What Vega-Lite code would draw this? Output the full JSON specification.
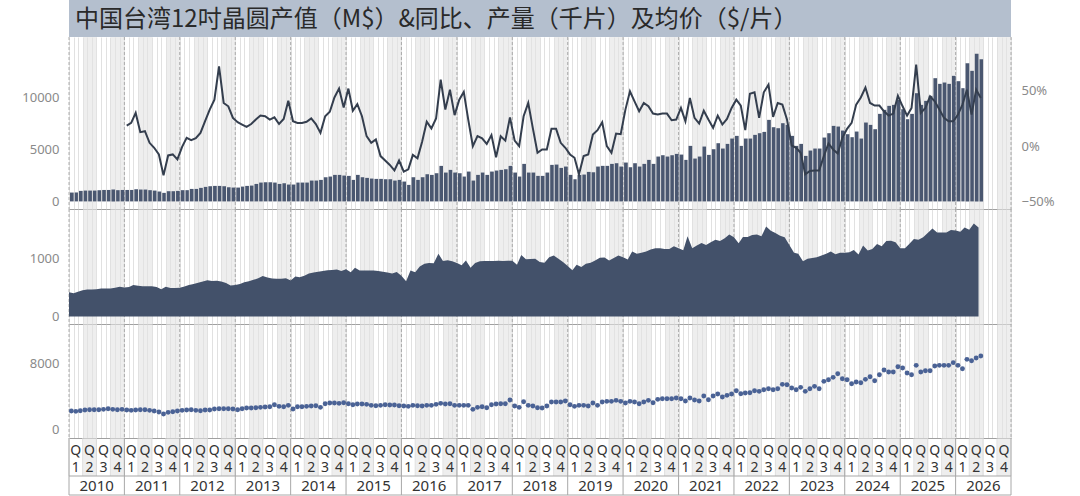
{
 "$schema": "https://vega.github.io/schema/vega-lite/v6.json",
 "padding": {"left": 5, "top": 0, "right": 0, "bottom": 0},
 "spacing": 0,
 "bounds": "flush",
 "background": "white",
 "config": {
  "view": {"stroke": null},
  "font": "Noto Sans",
  "axisX": {"grid": true, "gridColor": "#d4d4d4", "gridWidth": 0.7, "labels": false, "ticks": false, "domain": true, "domainColor": "#a0a0a0", "domainWidth": 1, "title": null, "tickCount": {"interval": "month", "step": 1}},
  "axisY": {"grid": false, "ticks": false, "domain": false, "title": null, "labelColor": "#8a8a8a", "labelFontSize": 13, "labelPadding": 10},
  "axisLeft": {"minExtent": 64, "maxExtent": 64, "format": "d"}
 },
 "datasets": {
  "m": [
   {"d":"2010-01","v":850,"p":415,"a":2274},{"d":"2010-02","v":860,"p":400,"a":2233},{"d":"2010-03","v":1010,"p":425,"a":2314},{"d":"2010-04","v":1040,"p":450,"a":2395},{"d":"2010-05","v":1040,"p":462,"a":2436},{"d":"2010-06","v":1040,"p":466,"a":2436},{"d":"2010-07","v":1075,"p":470,"a":2436},{"d":"2010-08","v":1100,"p":480,"a":2477},{"d":"2010-09","v":1100,"p":483,"a":2558},{"d":"2010-10","v":1140,"p":483,"a":2477},{"d":"2010-11","v":1080,"p":495,"a":2436},{"d":"2010-12","v":1100,"p":510,"a":2477},
   {"d":"2011-01","v":1100,"y":0.186,"p":500,"a":2395},{"d":"2011-02","v":1100,"y":0.21,"p":505,"a":2355},{"d":"2011-03","v":1170,"y":0.30,"p":540,"a":2395},{"d":"2011-04","v":1140,"y":0.126,"p":530,"a":2436},{"d":"2011-05","v":1140,"y":0.135,"p":520,"a":2436},{"d":"2011-06","v":1080,"y":0.03,"p":520,"a":2355},{"d":"2011-07","v":1040,"y":-0.015,"p":522,"a":2274},{"d":"2011-08","v":950,"y":-0.075,"p":505,"a":2152},{"d":"2011-09","v":820,"y":-0.264,"p":470,"a":1908},{"d":"2011-10","v":980,"y":-0.084,"p":510,"a":2111},{"d":"2011-11","v":980,"y":-0.075,"p":490,"a":2192},{"d":"2011-12","v":1010,"y":-0.12,"p":490,"a":2274},
   {"d":"2012-01","v":1080,"y":-0.006,"p":495,"a":2355},{"d":"2012-02","v":1080,"y":0.075,"p":515,"a":2395},{"d":"2012-03","v":1200,"y":0.054,"p":540,"a":2436},{"d":"2012-04","v":1200,"y":0.072,"p":560,"a":2355},{"d":"2012-05","v":1300,"y":0.12,"p":580,"a":2314},{"d":"2012-06","v":1395,"y":0.225,"p":600,"a":2395},{"d":"2012-07","v":1460,"y":0.33,"p":625,"a":2395},{"d":"2012-08","v":1490,"y":0.42,"p":610,"a":2517},{"d":"2012-09","v":1490,"y":0.72,"p":615,"a":2558},{"d":"2012-10","v":1460,"y":0.39,"p":600,"a":2558},{"d":"2012-11","v":1360,"y":0.36,"p":575,"a":2558},{"d":"2012-12","v":1330,"y":0.255,"p":535,"a":2517},
   {"d":"2013-01","v":1330,"y":0.216,"p":540,"a":2436},{"d":"2013-02","v":1425,"y":0.195,"p":560,"a":2558},{"d":"2013-03","v":1490,"y":0.174,"p":590,"a":2639},{"d":"2013-04","v":1520,"y":0.20,"p":605,"a":2639},{"d":"2013-05","v":1680,"y":0.24,"p":630,"a":2680},{"d":"2013-06","v":1810,"y":0.276,"p":660,"a":2720},{"d":"2013-07","v":1840,"y":0.27,"p":695,"a":2761},{"d":"2013-08","v":1840,"y":0.24,"p":670,"a":2801},{"d":"2013-09","v":1810,"y":0.26,"p":655,"a":3045},{"d":"2013-10","v":1680,"y":0.20,"p":650,"a":2842},{"d":"2013-11","v":1745,"y":0.246,"p":650,"a":2801},{"d":"2013-12","v":1620,"y":0.41,"p":660,"a":2964},
   {"d":"2014-01","v":1620,"y":0.225,"p":620,"a":2517},{"d":"2014-02","v":1810,"y":0.21,"p":690,"a":2801},{"d":"2014-03","v":1810,"y":0.21,"p":675,"a":2801},{"d":"2014-04","v":1810,"y":0.22,"p":700,"a":2842},{"d":"2014-05","v":2003,"y":0.25,"p":740,"a":2883},{"d":"2014-06","v":2003,"y":0.20,"p":755,"a":2923},{"d":"2014-07","v":2067,"y":0.12,"p":770,"a":2720},{"d":"2014-08","v":2324,"y":0.27,"p":785,"a":3167},{"d":"2014-09","v":2388,"y":0.31,"p":795,"a":3248},{"d":"2014-10","v":2548,"y":0.44,"p":800,"a":3248},{"d":"2014-11","v":2548,"y":0.52,"p":810,"a":3207},{"d":"2014-12","v":2484,"y":0.35,"p":785,"a":3289},
   {"d":"2015-01","v":2452,"y":0.52,"p":812,"a":3167},{"d":"2015-02","v":2067,"y":0.32,"p":760,"a":3045},{"d":"2015-03","v":2548,"y":0.38,"p":840,"a":3126},{"d":"2015-04","v":2324,"y":0.27,"p":790,"a":3126},{"d":"2015-05","v":2260,"y":0.09,"p":790,"a":3086},{"d":"2015-06","v":2195,"y":0.03,"p":790,"a":2964},{"d":"2015-07","v":2163,"y":0.06,"p":790,"a":2923},{"d":"2015-08","v":2163,"y":-0.09,"p":785,"a":2964},{"d":"2015-09","v":2131,"y":-0.13,"p":770,"a":3045},{"d":"2015-10","v":2131,"y":-0.17,"p":755,"a":3004},{"d":"2015-11","v":2003,"y":-0.22,"p":740,"a":3004},{"d":"2015-12","v":2067,"y":-0.13,"p":765,"a":2923},
   {"d":"2016-01","v":1907,"y":-0.23,"p":700,"a":2883},{"d":"2016-02","v":1586,"y":-0.21,"p":605,"a":2842},{"d":"2016-03","v":2324,"y":-0.08,"p":790,"a":2964},{"d":"2016-04","v":2067,"y":-0.11,"p":760,"a":2923},{"d":"2016-05","v":2324,"y":0.04,"p":860,"a":2883},{"d":"2016-06","v":2612,"y":0.22,"p":910,"a":2964},{"d":"2016-07","v":2548,"y":0.16,"p":920,"a":2964},{"d":"2016-08","v":2708,"y":0.25,"p":915,"a":3086},{"d":"2016-09","v":3413,"y":0.60,"p":1080,"a":3207},{"d":"2016-10","v":2772,"y":0.33,"p":955,"a":3126},{"d":"2016-11","v":3029,"y":0.51,"p":970,"a":3167},{"d":"2016-12","v":2772,"y":0.28,"p":950,"a":2964},
   {"d":"2017-01","v":2708,"y":0.42,"p":920,"a":2964},{"d":"2017-02","v":2388,"y":0.49,"p":880,"a":2964},{"d":"2017-03","v":2868,"y":0.24,"p":965,"a":2964},{"d":"2017-04","v":2003,"y":0.0,"p":840,"a":2477},{"d":"2017-05","v":2548,"y":0.09,"p":920,"a":2720},{"d":"2017-06","v":2772,"y":0.07,"p":950,"a":2801},{"d":"2017-07","v":2548,"y":0.02,"p":955,"a":2680},{"d":"2017-08","v":2868,"y":0.10,"p":955,"a":3045},{"d":"2017-09","v":2965,"y":-0.10,"p":955,"a":3126},{"d":"2017-10","v":3029,"y":0.09,"p":960,"a":3167},{"d":"2017-11","v":3093,"y":0.05,"p":955,"a":3167},{"d":"2017-12","v":3413,"y":0.26,"p":960,"a":3613},
   {"d":"2018-01","v":2772,"y":0.05,"p":960,"a":2883},{"d":"2018-02","v":2388,"y":0.0,"p":890,"a":2720},{"d":"2018-03","v":3606,"y":0.27,"p":1060,"a":3410},{"d":"2018-04","v":2772,"y":0.39,"p":985,"a":2964},{"d":"2018-05","v":2772,"y":0.16,"p":990,"a":2883},{"d":"2018-06","v":2452,"y":-0.06,"p":994,"a":2680},{"d":"2018-07","v":2452,"y":-0.03,"p":937,"a":2639},{"d":"2018-08","v":2772,"y":-0.03,"p":926,"a":2883},{"d":"2018-09","v":3510,"y":0.156,"p":1022,"a":3370},{"d":"2018-10","v":3540,"y":0.156,"p":1051,"a":3370},{"d":"2018-11","v":3220,"y":0.03,"p":994,"a":3370},{"d":"2018-12","v":3350,"y":-0.015,"p":937,"a":3492},
   {"d":"2019-01","v":2550,"y":-0.075,"p":869,"a":3045},{"d":"2019-02","v":2130,"y":-0.105,"p":795,"a":2842},{"d":"2019-03","v":2550,"y":-0.255,"p":892,"a":2964},{"d":"2019-04","v":2580,"y":-0.09,"p":852,"a":2964},{"d":"2019-05","v":2836,"y":-0.075,"p":909,"a":2883},{"d":"2019-06","v":2800,"y":0.105,"p":926,"a":3248},{"d":"2019-07","v":3350,"y":0.144,"p":966,"a":2964},{"d":"2019-08","v":3415,"y":0.216,"p":1011,"a":3370},{"d":"2019-09","v":3415,"y":0.0,"p":1017,"a":3451},{"d":"2019-10","v":3606,"y":-0.06,"p":966,"a":3451},{"d":"2019-11","v":3670,"y":0.114,"p":1005,"a":3573},{"d":"2019-12","v":3350,"y":0.108,"p":1051,"a":3451},
   {"d":"2020-01","v":3734,"y":0.33,"p":1022,"a":3248},{"d":"2020-02","v":3285,"y":0.495,"p":983,"a":3451},{"d":"2020-03","v":3670,"y":0.405,"p":1119,"a":3370},{"d":"2020-04","v":3350,"y":0.315,"p":1079,"a":3167},{"d":"2020-05","v":3606,"y":0.39,"p":1096,"a":3370},{"d":"2020-06","v":3990,"y":0.36,"p":1119,"a":3573},{"d":"2020-07","v":3606,"y":0.294,"p":1153,"a":3289},{"d":"2020-08","v":4311,"y":0.285,"p":1176,"a":3695},{"d":"2020-09","v":4439,"y":0.294,"p":1176,"a":3776},{"d":"2020-10","v":4311,"y":0.294,"p":1164,"a":3776},{"d":"2020-11","v":4439,"y":0.234,"p":1164,"a":3776},{"d":"2020-12","v":4567,"y":0.24,"p":1210,"a":3857},
   {"d":"2021-01","v":4500,"y":0.345,"p":1176,"a":3776},{"d":"2021-02","v":3990,"y":0.225,"p":1142,"a":3492},{"d":"2021-03","v":5336,"y":0.435,"p":1380,"a":3857},{"d":"2021-04","v":4118,"y":0.255,"p":1176,"a":3613},{"d":"2021-05","v":4311,"y":0.204,"p":1221,"a":3492},{"d":"2021-06","v":5272,"y":0.32,"p":1267,"a":4101},{"d":"2021-07","v":4470,"y":0.24,"p":1233,"a":3654},{"d":"2021-08","v":5016,"y":0.165,"p":1278,"a":4101},{"d":"2021-09","v":5593,"y":0.276,"p":1323,"a":4344},{"d":"2021-10","v":5080,"y":0.195,"p":1300,"a":3979},{"d":"2021-11","v":5528,"y":0.246,"p":1346,"a":4182},{"d":"2021-12","v":6041,"y":0.345,"p":1414,"a":4344},
   {"d":"2022-01","v":6298,"y":0.42,"p":1363,"a":4750},{"d":"2022-02","v":5336,"y":0.366,"p":1261,"a":4385},{"d":"2022-03","v":6041,"y":0.144,"p":1369,"a":4466},{"d":"2022-04","v":6041,"y":0.474,"p":1369,"a":4507},{"d":"2022-05","v":6394,"y":0.486,"p":1403,"a":4750},{"d":"2022-06","v":6554,"y":0.255,"p":1414,"a":4669},{"d":"2022-07","v":6682,"y":0.486,"p":1380,"a":4872},{"d":"2022-08","v":7836,"y":0.555,"p":1550,"a":4994},{"d":"2022-09","v":7131,"y":0.264,"p":1477,"a":4872},{"d":"2022-10","v":7035,"y":0.39,"p":1437,"a":4994},{"d":"2022-11","v":7516,"y":0.375,"p":1391,"a":5522},{"d":"2022-12","v":7355,"y":0.24,"p":1363,"a":5481},
   {"d":"2023-01","v":6298,"y":0.006,"p":1233,"a":5075},{"d":"2023-02","v":5336,"y":-0.015,"p":1096,"a":4872},{"d":"2023-03","v":5528,"y":-0.06,"p":1079,"a":5156},{"d":"2023-04","v":4375,"y":-0.255,"p":949,"a":4669},{"d":"2023-05","v":4888,"y":-0.225,"p":994,"a":4994},{"d":"2023-06","v":5080,"y":-0.22,"p":1005,"a":5278},{"d":"2023-07","v":5080,"y":-0.22,"p":1022,"a":4994},{"d":"2023-08","v":6137,"y":-0.09,"p":1051,"a":5887},{"d":"2023-09","v":6554,"y":0.024,"p":1079,"a":6090},{"d":"2023-10","v":7259,"y":-0.03,"p":1119,"a":6374},{"d":"2023-11","v":7195,"y":-0.066,"p":1073,"a":6821},{"d":"2023-12","v":6810,"y":0.075,"p":1096,"a":6212},
   {"d":"2024-01","v":6458,"y":0.156,"p":1096,"a":6090},{"d":"2024-02","v":6170,"y":0.21,"p":1107,"a":5603},{"d":"2024-03","v":6714,"y":0.375,"p":1147,"a":5806},{"d":"2024-04","v":6041,"y":0.44,"p":1068,"a":5725},{"d":"2024-05","v":7580,"y":0.53,"p":1221,"a":6131},{"d":"2024-06","v":7355,"y":0.39,"p":1136,"a":6455},{"d":"2024-07","v":6939,"y":0.366,"p":1164,"a":5968},{"d":"2024-08","v":8413,"y":0.366,"p":1250,"a":6699},{"d":"2024-09","v":8798,"y":0.315,"p":1210,"a":7267},{"d":"2024-10","v":9182,"y":0.276,"p":1300,"a":7024},{"d":"2024-11","v":9278,"y":0.294,"p":1306,"a":7024},{"d":"2024-12","v":9759,"y":0.456,"p":1278,"a":7673},
   {"d":"2025-01","v":8862,"y":0.36,"p":1176,"a":7511},{"d":"2025-02","v":7900,"y":0.276,"p":1176,"a":6902},{"d":"2025-03","v":8413,"y":0.345,"p":1250,"a":6699},{"d":"2025-04","v":10400,"y":0.736,"p":1335,"a":7836},{"d":"2025-05","v":9278,"y":0.30,"p":1323,"a":7024},{"d":"2025-06","v":9663,"y":0.345,"p":1363,"a":7186},{"d":"2025-07","v":10144,"y":0.45,"p":1437,"a":7186},{"d":"2025-08","v":11842,"y":0.405,"p":1516,"a":7755},{"d":"2025-09","v":11297,"y":0.33,"p":1448,"a":7836},{"d":"2025-10","v":11425,"y":0.255,"p":1448,"a":7836},{"d":"2025-11","v":11297,"y":0.225,"p":1448,"a":7836},{"d":"2025-12","v":12067,"y":0.225,"p":1488,"a":8161},
   {"d":"2026-01","v":11554,"y":0.285,"p":1482,"a":7836},{"d":"2026-02","v":10881,"y":0.375,"p":1460,"a":7430},{"d":"2026-03","v":13285,"y":0.51,"p":1534,"a":8567},{"d":"2026-04","v":12548,"y":0.285,"p":1494,"a":8404},{"d":"2026-05","v":14182,"y":0.51,"p":1602,"a":8729},{"d":"2026-06","v":13670,"y":0.435,"p":1534,"a":8973}
  ],
  "q": [
   {"d":"2010-01-01","q":1},{"d":"2010-04-01","q":2},{"d":"2010-07-01","q":3},{"d":"2010-10-01","q":4},
   {"d":"2011-01-01","q":1},{"d":"2011-04-01","q":2},{"d":"2011-07-01","q":3},{"d":"2011-10-01","q":4},
   {"d":"2012-01-01","q":1},{"d":"2012-04-01","q":2},{"d":"2012-07-01","q":3},{"d":"2012-10-01","q":4},
   {"d":"2013-01-01","q":1},{"d":"2013-04-01","q":2},{"d":"2013-07-01","q":3},{"d":"2013-10-01","q":4},
   {"d":"2014-01-01","q":1},{"d":"2014-04-01","q":2},{"d":"2014-07-01","q":3},{"d":"2014-10-01","q":4},
   {"d":"2015-01-01","q":1},{"d":"2015-04-01","q":2},{"d":"2015-07-01","q":3},{"d":"2015-10-01","q":4},
   {"d":"2016-01-01","q":1},{"d":"2016-04-01","q":2},{"d":"2016-07-01","q":3},{"d":"2016-10-01","q":4},
   {"d":"2017-01-01","q":1},{"d":"2017-04-01","q":2},{"d":"2017-07-01","q":3},{"d":"2017-10-01","q":4},
   {"d":"2018-01-01","q":1},{"d":"2018-04-01","q":2},{"d":"2018-07-01","q":3},{"d":"2018-10-01","q":4},
   {"d":"2019-01-01","q":1},{"d":"2019-04-01","q":2},{"d":"2019-07-01","q":3},{"d":"2019-10-01","q":4},
   {"d":"2020-01-01","q":1},{"d":"2020-04-01","q":2},{"d":"2020-07-01","q":3},{"d":"2020-10-01","q":4},
   {"d":"2021-01-01","q":1},{"d":"2021-04-01","q":2},{"d":"2021-07-01","q":3},{"d":"2021-10-01","q":4},
   {"d":"2022-01-01","q":1},{"d":"2022-04-01","q":2},{"d":"2022-07-01","q":3},{"d":"2022-10-01","q":4},
   {"d":"2023-01-01","q":1},{"d":"2023-04-01","q":2},{"d":"2023-07-01","q":3},{"d":"2023-10-01","q":4},
   {"d":"2024-01-01","q":1},{"d":"2024-04-01","q":2},{"d":"2024-07-01","q":3},{"d":"2024-10-01","q":4},
   {"d":"2025-01-01","q":1},{"d":"2025-04-01","q":2},{"d":"2025-07-01","q":3},{"d":"2025-10-01","q":4},
   {"d":"2026-01-01","q":1},{"d":"2026-04-01","q":2},{"d":"2026-07-01","q":3},{"d":"2026-10-01","q":4}
  ],
  "yr": [
   {"d":"2010-01-01","yl":"2010"},{"d":"2011-01-01","yl":"2011"},{"d":"2012-01-01","yl":"2012"},{"d":"2013-01-01","yl":"2013"},{"d":"2014-01-01","yl":"2014"},{"d":"2015-01-01","yl":"2015"},{"d":"2016-01-01","yl":"2016"},{"d":"2017-01-01","yl":"2017"},{"d":"2018-01-01","yl":"2018"},{"d":"2019-01-01","yl":"2019"},{"d":"2020-01-01","yl":"2020"},{"d":"2021-01-01","yl":"2021"},{"d":"2022-01-01","yl":"2022"},{"d":"2023-01-01","yl":"2023"},{"d":"2024-01-01","yl":"2024"},{"d":"2025-01-01","yl":"2025"},{"d":"2026-01-01","yl":"2026"},{"d":"2027-01-01"}
  ]
 },
 "vconcat": [
  {
   "width": 942, "height": 37,
   "view": {"fill": "#b4bfce", "stroke": null},
   "data": {"values": [{"t": "中国台湾12吋晶圆产值（M$）&同比、产量（千片）及均价（$/片）", "d": "2010-01-01"}]},
   "mark": {"type": "text", "align": "left", "baseline": "middle", "dx": 6, "dy": 1, "font": "Noto Sans CJK SC", "fontSize": 24, "color": "#2a2a2a"},
   "encoding": {
    "x": {"field": "d", "type": "temporal", "scale": {"type": "utc", "nice": false, "domain": [{"year": 2010, "month": 1, "date": 1, "utc": true}, {"year": 2027, "month": 1, "date": 1, "utc": true}]}, "axis": null},
    "y": {"datum": 0.5, "type": "quantitative", "scale": {"domain": [0, 1]}, "axis": null},
    "text": {"field": "t"}
   }
  },
  {
   "width": 942, "height": 172,
   "layer": [
    {"data": {"name": "q"}, "transform": [{"filter": "datum.q == 2 || datum.q == 4"}],
     "mark": {"type": "rect", "color": "#e2e2e2", "opacity": 0.6},
     "encoding": {"x": {"field": "d", "type": "temporal", "timeUnit": "utcyearquarter", "scale": {"type": "utc", "nice": false, "domain": [{"year": 2010, "month": 1, "date": 1, "utc": true}, {"year": 2027, "month": 1, "date": 1, "utc": true}]}}}},
    {"data": {"name": "yr"}, "mark": {"type": "rule", "color": "#9a9a9a", "strokeDash": [3, 2], "strokeWidth": 0.8},
     "encoding": {"x": {"field": "d", "type": "temporal", "scale": {"type": "utc"}}}},
    {"data": {"name": "m"}, "mark": {"type": "bar", "color": "#4a5770", "timeUnitBandSize": 0.78},
     "encoding": {"x": {"field": "d", "type": "temporal", "timeUnit": "utcyearmonth", "scale": {"type": "utc"}},
      "y": {"field": "v", "type": "quantitative", "scale": {"domain": [-730, 15800], "nice": false, "zero": false}, "axis": {"orient": "left", "values": [0, 5000, 10000]}}}},
    {"data": {"name": "m"}, "mark": {"type": "line", "color": "#343e4e", "strokeWidth": 2},
     "encoding": {"x": {"field": "d", "type": "temporal", "timeUnit": "utcyearmonth", "bandPosition": 0.5, "scale": {"type": "utc"}},
      "y": {"field": "y", "type": "quantitative", "scale": {"domain": [-0.568, 0.986], "nice": false, "zero": false}, "axis": {"orient": "right", "values": [-0.5, 0, 0.5], "format": ".0%"}}}}
   ],
   "resolve": {"scale": {"y": "independent"}}
  },
  {
   "width": 942, "height": 115,
   "layer": [
    {"data": {"name": "q"}, "transform": [{"filter": "datum.q == 2 || datum.q == 4"}],
     "mark": {"type": "rect", "color": "#e2e2e2", "opacity": 0.6},
     "encoding": {"x": {"field": "d", "type": "temporal", "timeUnit": "utcyearquarter", "scale": {"type": "utc", "nice": false, "domain": [{"year": 2010, "month": 1, "date": 1, "utc": true}, {"year": 2027, "month": 1, "date": 1, "utc": true}]}}}},
    {"data": {"name": "yr"}, "mark": {"type": "rule", "color": "#9a9a9a", "strokeDash": [3, 2], "strokeWidth": 0.8},
     "encoding": {"x": {"field": "d", "type": "temporal", "scale": {"type": "utc"}}}},
    {"data": {"name": "m"}, "mark": {"type": "area", "color": "#43516a"},
     "encoding": {"x": {"field": "d", "type": "temporal", "timeUnit": "utcyearmonth", "bandPosition": 0.5, "scale": {"type": "utc"}},
      "y": {"field": "p", "type": "quantitative", "scale": {"domain": [-131, 1852], "nice": false, "zero": false}, "axis": {"orient": "left", "values": [0, 1000]}}}}
   ]
  },
  {
   "width": 942, "height": 114,
   "layer": [
    {"data": {"name": "q"}, "transform": [{"filter": "datum.q == 2 || datum.q == 4"}],
     "mark": {"type": "rect", "color": "#e2e2e2", "opacity": 0.6},
     "encoding": {"x": {"field": "d", "type": "temporal", "timeUnit": "utcyearquarter", "scale": {"type": "utc", "nice": false, "domain": [{"year": 2010, "month": 1, "date": 1, "utc": true}, {"year": 2027, "month": 1, "date": 1, "utc": true}]}}}},
    {"data": {"name": "yr"}, "mark": {"type": "rule", "color": "#9a9a9a", "strokeDash": [3, 2], "strokeWidth": 0.8},
     "encoding": {"x": {"field": "d", "type": "temporal", "scale": {"type": "utc"}}}},
    {"data": {"name": "m"}, "mark": {"type": "point", "filled": true, "size": 24, "opacity": 1, "color": "#4a6295"},
     "encoding": {"x": {"field": "d", "type": "temporal", "timeUnit": "utcyearmonth", "bandPosition": 0.5, "scale": {"type": "utc"}},
      "y": {"field": "a", "type": "quantitative", "scale": {"domain": [-1011, 12870], "nice": false, "zero": false}, "axis": {"orient": "left", "values": [0, 8000]}}}}
   ]
  },
  {
   "width": 942, "height": 57,
   "layer": [
    {"data": {"name": "q"}, "transform": [{"filter": "datum.q == 2 || datum.q == 4"}],
     "mark": {"type": "rect", "color": "#e2e2e2", "opacity": 0.6},
     "encoding": {"x": {"field": "d", "type": "temporal", "timeUnit": "utcyearquarter", "axis": null, "scale": {"type": "utc", "nice": false, "domain": [{"year": 2010, "month": 1, "date": 1, "utc": true}, {"year": 2027, "month": 1, "date": 1, "utc": true}]}},
      "y": {"datum": 1, "type": "quantitative", "scale": {"domain": [0, 3], "nice": false, "zero": false}, "axis": null},
      "y2": {"datum": 3}}},
    {"data": {"name": "q"}, "mark": {"type": "rule", "color": "#d6d6d6", "strokeWidth": 0.8},
     "encoding": {"x": {"field": "d", "type": "temporal", "axis": null, "scale": {"type": "utc"}},
      "y": {"datum": 1, "type": "quantitative", "axis": null}, "y2": {"datum": 3}}},
    {"data": {"name": "yr"}, "mark": {"type": "rule", "color": "#a8a8a8", "strokeWidth": 1},
     "encoding": {"x": {"field": "d", "type": "temporal", "axis": null, "scale": {"type": "utc"}},
      "y": {"datum": 0, "type": "quantitative", "axis": null}, "y2": {"datum": 3}}},
    {"data": {"values": [{"h": 0}, {"h": 1}]}, "mark": {"type": "rule", "color": "#a8a8a8", "strokeWidth": 1},
     "encoding": {"y": {"field": "h", "type": "quantitative", "axis": null}}},
    {"data": {"name": "q"}, "mark": {"type": "text", "fontSize": 14, "color": "#333333", "baseline": "middle"},
     "encoding": {"x": {"field": "d", "type": "temporal", "timeUnit": "utcyearquarter", "bandPosition": 0.5, "axis": null, "scale": {"type": "utc"}},
      "y": {"datum": 2.3, "type": "quantitative", "axis": null},
      "text": {"value": "Q"}}},
    {"data": {"name": "q"}, "mark": {"type": "text", "fontSize": 14, "color": "#333333", "baseline": "middle"},
     "encoding": {"x": {"field": "d", "type": "temporal", "timeUnit": "utcyearquarter", "bandPosition": 0.5, "axis": null, "scale": {"type": "utc"}},
      "y": {"datum": 1.4, "type": "quantitative", "axis": null},
      "text": {"field": "q", "type": "nominal"}}},
    {"data": {"name": "yr"}, "transform": [{"filter": "isValid(datum.yl)"}], "mark": {"type": "text", "fontSize": 15, "color": "#333333", "baseline": "middle"},
     "encoding": {"x": {"field": "d", "type": "temporal", "timeUnit": "utcyear", "bandPosition": 0.5, "axis": null, "scale": {"type": "utc"}},
      "y": {"datum": 0.47, "type": "quantitative", "axis": null},
      "text": {"field": "yl", "type": "nominal"}}}
   ]
  }
 ]
}
